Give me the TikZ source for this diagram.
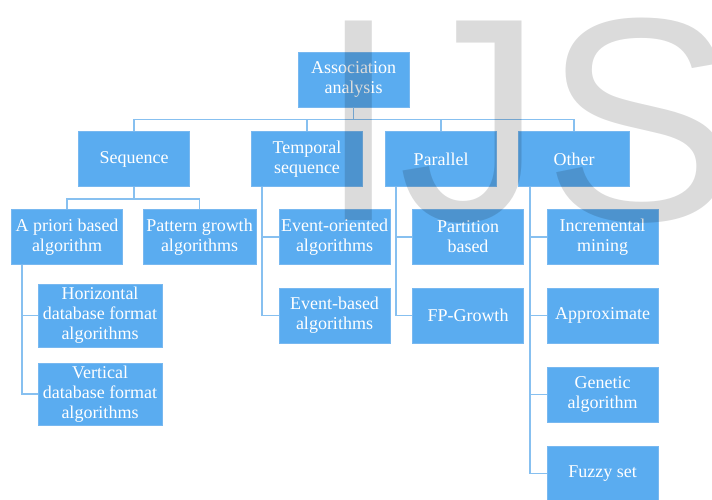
\documentclass[tikz,border=0pt]{standalone}
\usepackage{fontspec}
\setmainfont{Liberation Serif}
\newfontfamily\markfont{Liberation Sans}
\usepackage{tikz}
\definecolor{boxblue}{RGB}{90,172,240}
\definecolor{edgeblue}{RGB}{120,184,240}
\definecolor{linkblue}{RGB}{135,192,240}
\tikzset{
  box/.style={draw=edgeblue, line width=0.8pt, fill=boxblue, text=white,
    minimum width=111pt, minimum height=55pt, inner sep=1pt, align=center,
    font=\fontsize{18}{20}\selectfont},
  link/.style={draw=linkblue, line width=1.5pt}
}

\begin{document}
\begin{tikzpicture}[x=1pt, y=-1pt]
    \useasboundingbox (0,0) rectangle (712,499);
    \clip (0,0) rectangle (712,499);

    \node (Assoc) [box] at (353.5,79.5) {Association\\analysis};
    \node (Seq) [box, below of=Assoc, node distance=79.5pt, xshift=-219.5pt] {Sequence};
    \node (Temp) [box, right of=Seq, node distance=173pt] {Temporal\\sequence};
    \node (Par) [box, right of=Temp, node distance=134pt] {Parallel};
    \node (Other) [box, right of=Par, node distance=133pt] {Other};

    \node (Apriori) [box, below of=Seq, node distance=78pt, xshift=-67pt] {A priori based\\algorithm};
    \node (Pattern) [box, right of=Apriori, node distance=132.5pt, minimum width=113pt] {Pattern growth\\algorithms};
    \node (Horiz) [box, minimum width=124pt, minimum height=63pt] at (100,315.5) {Horizontal\\database format\\algorithms};
    \node (Vert) [box, below of=Horiz, node distance=78.5pt, minimum width=124pt, minimum height=62pt] {Vertical\\database format\\algorithms};

    \node (EvOr) [box] at (334.5,237) {Event-oriented\\algorithms};
    \node (EvBa) [box, below of=EvOr, node distance=78.5pt] {Event-based\\algorithms};

    \node (Part) [box] at (468,237) {Partition\\based};
    \node (FPG) [box, below of=Part, node distance=78.5pt] {FP-Growth};

    \node (Incr) [box] at (602.5,237) {Incremental\\mining};
    \node (Approx) [box, below of=Incr, node distance=78.5pt] {Approximate};
    \node (Gen) [box, below of=Approx, node distance=79pt] {Genetic\\algorithm};
    \node (Fuzzy) [box, below of=Gen, node distance=79pt] {Fuzzy set};

    % top level
    \draw[link] (Assoc.south) -- ++(0,12) -| (Seq.north);
    \draw[link] (Assoc.south) -- ++(0,12) -| (Temp.north);
    \draw[link] (Assoc.south) -- ++(0,12) -| (Par.north);
    \draw[link] (Assoc.south) -- ++(0,12) -| (Other.north);

    % sequence
    \draw[link] (Seq.south) -- ++(0,12) -| (Apriori.north);
    \draw[link] (Seq.south) -- ++(0,12) -| (Pattern.north);
    \draw[link] ([xshift=11pt]Apriori.south west) |- (Horiz.west);
    \draw[link] ([xshift=11pt]Apriori.south west) |- (Vert.west);

    % side branches
    \draw[link] ([xshift=11pt]Temp.south west) |- (EvOr.west);
    \draw[link] ([xshift=11pt]Temp.south west) |- (EvBa.west);
    \draw[link] ([xshift=11pt]Par.south west) |- (Part.west);
    \draw[link] ([xshift=11pt]Par.south west) |- (FPG.west);
    \foreach \k in {Incr, Approx, Gen, Fuzzy}
        \draw[link] ([xshift=12pt]Other.south west) |- (\k.west);

    % watermark
    \node (Mark) [anchor=base west, inner sep=0pt, text=black, text opacity=0.14,
        font=\markfont\fontsize{290}{290}\selectfont] at (318,220) {IJS};
\end{tikzpicture}
\end{document}
